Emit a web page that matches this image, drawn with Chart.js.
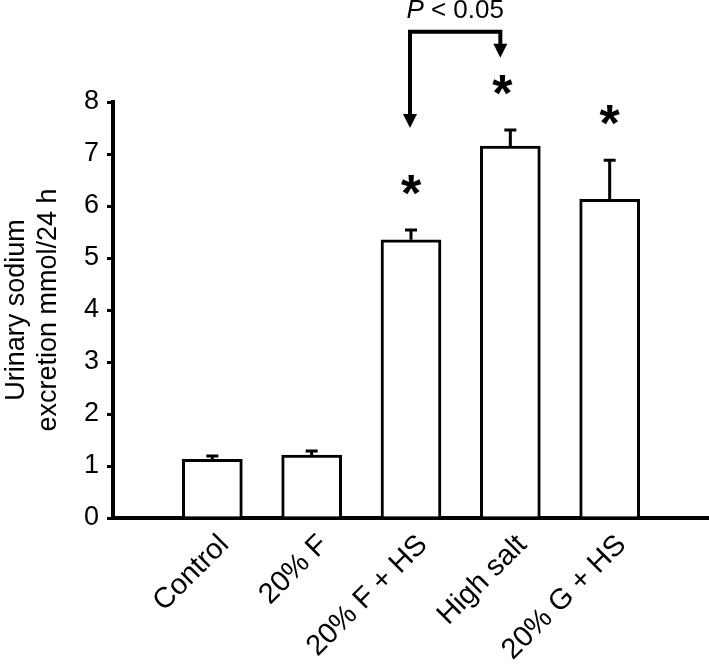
<!DOCTYPE html>
<html>
<head>
<meta charset="utf-8">
<script src="https://cdn.jsdelivr.net/npm/chart.js@4/dist/chart.umd.min.js"></script>
<style>
  body { margin: 0; background: #fff; }
  canvas { display: block; }
</style>
</head>
<body>
<canvas id="myChart" width="709" height="668"></canvas>
<script>
  // Data
  const categories = ['Control', '20% F', '20% F + HS', 'High salt', '20% G + HS'];
  const sodium = [1.13, 1.21, 5.35, 7.15, 6.13];
  const sem = [0.08, 0.10, 0.21, 0.33, 0.77];
  const significant = [false, false, true, true, true];
  const yTicks = [0, 1, 2, 3, 4, 5, 6, 7, 8];

  const FONT = "'Liberation Sans', Arial, sans-serif";

  // Error bars, asterisks and the P bracket
  const extras = {
    id: 'extras',
    afterDatasetsDraw(chart) {
      const { ctx, scales: { x, y } } = chart;
      ctx.save();
      ctx.strokeStyle = '#000';
      ctx.fillStyle = '#000';
      ctx.lineWidth = 3;

      sodium.forEach((v, i) => {
        const px = x.getPixelForValue(i);
        const top = y.getPixelForValue(v + sem[i]);
        ctx.beginPath();
        ctx.moveTo(px, y.getPixelForValue(v));
        ctx.lineTo(px, top);
        ctx.moveTo(px - 6, top + 1);
        ctx.lineTo(px + 6, top + 1);
        ctx.stroke();

        if (significant[i]) {
          ctx.font = 'bold 52px ' + FONT;
          ctx.textAlign = 'center';
          ctx.textBaseline = 'alphabetic';
          ctx.fillText('*', px - (i === 3 ? 8 : 0), top - 48 + 30);
        }
      });

      // bracket between 20% F + HS and High salt
      const xl = x.getPixelForValue(2) - 1;
      const xr = x.getPixelForValue(3) - 10;
      const yTop = y.getPixelForValue(9.35);
      const tipL = y.getPixelForValue(7.5);
      const tipR = y.getPixelForValue(8.85);
      ctx.lineWidth = 4;
      ctx.beginPath();
      ctx.moveTo(xl, tipL - 10);
      ctx.lineTo(xl, yTop);
      ctx.lineTo(xr, yTop);
      ctx.lineTo(xr, tipR - 10);
      ctx.stroke();
      [[xl, tipL], [xr, tipR]].forEach(([ax, ay]) => {
        ctx.beginPath();
        ctx.moveTo(ax - 7, ay - 14);
        ctx.lineTo(ax + 7, ay - 14);
        ctx.lineTo(ax, ay);
        ctx.closePath();
        ctx.fill();
      });

      const mid = (xl + xr) / 2;
      const rest = ' < 0.05';
      ctx.font = '26px ' + FONT;
      const wRest = ctx.measureText(rest).width;
      ctx.font = 'italic 26px ' + FONT;
      const wP = ctx.measureText('P').width;
      const start = mid - (wP + wRest) / 2;
      ctx.textAlign = 'left';
      ctx.textBaseline = 'alphabetic';
      ctx.fillText('P', start, 18);
      ctx.font = '26px ' + FONT;
      ctx.fillText(rest, start + wP, 18);
      ctx.restore();
    }
  };

  const ctx = document.getElementById('myChart').getContext('2d');
  const myChart = new Chart(ctx, {
    type: 'bar',
    data: {
      datasets: [{
        data: sodium.map((v, i) => ({ x: i, y: v })),
        backgroundColor: '#fff',
        borderColor: '#000',
        borderWidth: 3,
        barThickness: 60,
      }]
    },
    options: {
      responsive: false,
      devicePixelRatio: 1,
      animation: false,
      layout: { padding: { top: 102, right: 0, left: 0, bottom: 0 } },
      plugins: {
        legend: { display: false },
        tooltip: { enabled: false }
      },
      scales: {
        x: {
          type: 'linear',
          min: -1,
          max: 5,
          offset: false,
          afterBuildTicks: (scale) => { scale.ticks = categories.map((c, i) => ({ value: i })); },
          afterFit: (scale) => { scale.height = 150; },
          grid: { display: false, drawTicks: false },
          border: { display: true, color: '#000', width: 4 },
          ticks: {
            autoSkip: false,
            minRotation: 45,
            maxRotation: 45,
            labelOffset: 12,
            padding: 10,
            color: '#000',
            font: { family: FONT, size: 29 },
            callback: (v) => categories[v]
          }
        },
        y: {
          min: 0,
          max: 8,
          afterBuildTicks: (scale) => { scale.ticks = yTicks.map(v => ({ value: v })); },
          afterFit: (scale) => { scale.width = 113; },
          grid: { drawOnChartArea: false, drawTicks: true, tickLength: 6, color: '#000', lineWidth: 3 },
          border: { display: true, color: '#000', width: 4 },
          ticks: {
            padding: 8,
            color: '#000',
            font: { family: FONT, size: 27 }
          },
          title: {
            display: true,
            text: ['Urinary sodium', 'excretion mmol/24 h'],
            color: '#000',
            font: { family: FONT, size: 27, lineHeight: 1.2 },
            padding: 0
          }
        }
      }
    },
    plugins: [extras]
  });
</script>
</body>
</html>
